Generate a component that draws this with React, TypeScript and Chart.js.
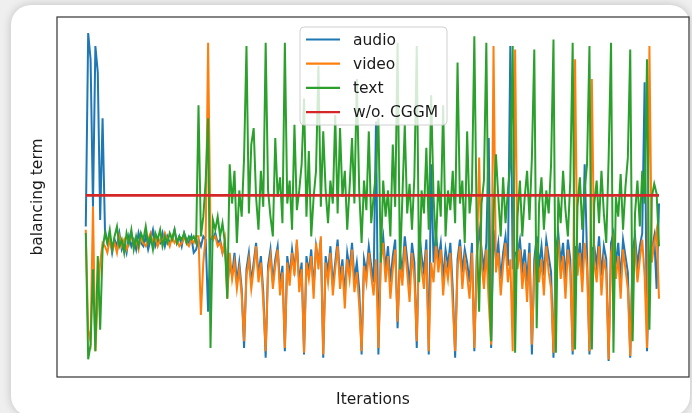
import React, { useEffect, useRef } from "react";
import { Chart, registerables } from "chart.js";

Chart.register(...registerables);

// iteration index (x) for every sample
const iterations: number[] = Array.from({ length: 240 }, (_, i) => i);

const audio: number[] = [
  41, 100, 92, 47, 96, 88, 43, 74,
  40, 36, 38, 33, 37, 35, 39, 34, 36, 33, 38, 35, 37, 34, 39, 36, 35, 38, 34, 37,
  40, 35, 37, 36, 39, 35, 38, 36, 37, 40, 36, 38, 35, 39, 37, 36, 38, 33, 34,
  37, 35, 38, 37, 15, 38, 37, 39, 36, 37, 33, 36, 23,
  30, 26, 33, 24, 30, 22, 4, 28, 33, 24,
  30, 36, 26, 32, 21, 1, 29, 34, 24, 31,
  35, 23, 29, 3, 32, 26, 34, 28, 36, 24,
  30, 2, 32, 27, 34, 22, 35, 30, 37, 1,
  32, 27, 35, 23, 30, 37, 25, 31, 20, 33,
  28, 36, 25, 30, 22, 2, 31, 27, 35, 29,
  24, 73, 2, 33, 38, 28, 35, 24, 32, 37,
  10, 33, 27, 38, 31, 23, 36, 30, 4, 40,
  32, 27, 37, 2, 60, 30, 39, 31, 36, 25,
  34, 29, 36, 22, 1, 31, 37, 27, 34, 30,
  24, 36, 3, 32, 40, 34, 28, 36, 68, 4,
  40, 31, 36, 25, 33, 38, 29, 96, 28, 33,
  33, 37, 28, 34, 24, 36, 2, 31, 38, 29,
  35, 26, 37, 32, 27, 1, 34, 39, 30, 36,
  25, 37, 31, 2, 35, 30, 36, 26, 60, 32,
  2, 34, 35, 29, 38, 26, 35, 31, 0, 36,
  39, 30, 36, 25, 37, 32, 27, 1, 34, 38,
  29, 35, 39, 85, 3, 30, 34, 38, 22, 48,
];

const video: number[] = [
  40, 9.5, 6, 47, 3, 20, 30, 36,
  35, 33, 37, 34, 36, 33, 38, 35, 37, 34, 36, 39, 35, 37, 34, 38, 36, 35, 37, 39,
  36, 38, 35, 37, 36, 39, 37, 35, 38, 36, 37, 35, 36, 38, 36, 35, 37, 36, 38,
  38, 14, 30, 38, 97, 38, 37, 38, 35, 36, 33, 37, 19,
  33, 25, 30, 22, 28, 20, 6, 26, 31, 22,
  28, 35, 24, 30, 18, 3, 27, 32, 22, 29,
  34, 20, 27, 4, 30, 23, 33, 26, 37, 21,
  28, 2.5, 30, 25, 32, 19, 36, 28, 38, 2,
  30, 24, 33, 20, 28, 35, 22, 29, 16, 31,
  25, 34, 21, 27, 17, 3, 29, 24, 33, 26,
  20, 31, 4, 30, 36, 24, 32, 19, 28, 34,
  12, 30, 23, 35, 27, 18, 33, 25, 6, 37,
  28, 22, 34, 3, 30, 24, 36, 27, 34, 20,
  30, 25, 33, 17, 3, 28, 35, 22, 31, 26,
  19, 33, 4, 28, 62, 30, 22, 34, 18, 5,
  96, 27, 33, 20, 29, 36, 24, 31, 3, 95,
  28, 34, 22, 30, 18, 33, 5, 26, 36, 24,
  31, 20, 35, 27, 22, 2.5, 30, 37, 25, 32,
  19, 34, 27, 3, 92, 26, 33, 21, 36, 28,
  3, 86, 30, 24, 35, 20, 31, 27, 0.5, 33,
  37, 25, 32, 19, 34, 28, 22, 1.5, 30, 35,
  24, 31, 37, 26, 4, 96, 30, 36, 40, 19,
];

const textMod: number[] = [
  39, 0.5, 5, 28, 3, 32, 9.5, 34,
  39, 36, 40, 34, 38, 41, 35, 37, 33, 39, 36, 40, 34, 38, 35, 39, 37, 41, 36, 38,
  34, 39, 37, 40, 35, 38, 36, 39, 37, 40, 36, 38, 37, 39, 36, 38, 37, 38, 36,
  78, 38, 44, 55, 74, 4, 43, 40, 44, 38, 42, 36, 19,
  60, 48, 58, 36, 52, 44, 62, 96, 45, 66,
  71, 50, 40, 58, 47, 97, 52, 44, 38, 68,
  50, 56, 42, 97, 48, 55, 40, 72, 46, 52,
  60, 80, 44, 64, 38, 50, 58, 90, 47, 70,
  52, 42, 55, 48, 75, 45, 71, 50, 58, 40,
  53, 68, 48, 86, 52, 36, 55, 46, 70, 42,
  50, 58, 74, 30, 55, 44, 52, 38, 66, 47,
  97, 28, 50, 72, 45, 54, 40, 56, 96, 24,
  52, 45, 65, 40, 81, 50, 35, 55, 44, 78,
  38, 52, 46, 58, 42, 91, 48, 55, 36, 70,
  45, 52, 99, 40, 15, 48, 55, 97, 30, 6,
  45, 63, 50, 38, 56, 42, 52, 60, 96, 2.5,
  44, 55, 38, 50, 58, 43, 62, 95, 10, 48,
  56, 40, 52, 45, 60, 98, 2.5, 50, 42, 58,
  46, 38, 55, 97, 3.5, 47, 56, 40, 52, 60,
  96, 3.5, 48, 55, 42, 58, 45, 36, 62, 97,
  2.5, 50, 44, 57, 40, 53, 62, 95, 6, 45,
  55, 41, 58, 48, 92, 9.5, 50, 54, 51, 35,
];

// constant balancing term without CGGM (first and last iteration)
const woCGGM: number[] = [50.5, 50.5];

const seriesLabels = ["audio", "video", "text", "w/o. CGGM"];
const seriesColors = ["#1f77b4", "#ff7f0e", "#2ca02c", "#d62728"];

const FONT = "'DejaVu Sans', sans-serif";

const decorPlugin = {
  id: "decor",
  afterDatasetsDraw(chart: any) {
    const { ctx, chartArea } = chart;
    const { left, top, right, bottom } = chartArea;
    ctx.save();
    // frame (all four spines)
    ctx.strokeStyle = "#333333";
    ctx.lineWidth = 1.2;
    ctx.strokeRect(left, top, right - left, bottom - top);

    // legend box
    const bx = 300, by = 27, bw = 147, bh = 98, r = 4;
    ctx.beginPath();
    ctx.moveTo(bx + r, by);
    ctx.lineTo(bx + bw - r, by);
    ctx.quadraticCurveTo(bx + bw, by, bx + bw, by + r);
    ctx.lineTo(bx + bw, by + bh - r);
    ctx.quadraticCurveTo(bx + bw, by + bh, bx + bw - r, by + bh);
    ctx.lineTo(bx + r, by + bh);
    ctx.quadraticCurveTo(bx, by + bh, bx, by + bh - r);
    ctx.lineTo(bx, by + r);
    ctx.quadraticCurveTo(bx, by, bx + r, by);
    ctx.closePath();
    ctx.fillStyle = "rgba(255,255,255,0.8)";
    ctx.fill();
    ctx.strokeStyle = "#d0d0d0";
    ctx.lineWidth = 1;
    ctx.stroke();

    ctx.font = `15.5px ${FONT}`;
    ctx.textBaseline = "middle";
    ctx.textAlign = "left";
    seriesLabels.forEach((lab, k) => {
      const yy = 39.5 + k * 24.2;
      ctx.strokeStyle = seriesColors[k];
      ctx.lineWidth = 2.2;
      ctx.beginPath();
      ctx.moveTo(306, yy);
      ctx.lineTo(340, yy);
      ctx.stroke();
      ctx.fillStyle = "#1a1a1a";
      ctx.fillText(lab, 353, yy + 1);
    });

    // axis titles
    ctx.fillStyle = "#1a1a1a";
    ctx.font = `15.5px ${FONT}`;
    ctx.textAlign = "center";
    ctx.textBaseline = "alphabetic";
    ctx.fillText("Iterations", (left + right) / 2, 404);
    ctx.translate(42, (top + bottom) / 2);
    ctx.rotate(-Math.PI / 2);
    ctx.fillText("balancing term", 0, 0);
    ctx.restore();
  },
};

export default function App() {
  const ref = useRef<HTMLCanvasElement | null>(null);

  useEffect(() => {
    if (!ref.current) return;
    const toPts = (arr: number[]) => arr.map((v, i) => ({ x: iterations[i], y: v }));
    const chart = new Chart(ref.current, {
      type: "line",
      data: {
        datasets: [
          { label: seriesLabels[0], data: toPts(audio), borderColor: seriesColors[0], order: 4 },
          { label: seriesLabels[1], data: toPts(video), borderColor: seriesColors[1], order: 3 },
          { label: seriesLabels[2], data: toPts(textMod), borderColor: seriesColors[2], order: 2 },
          {
            label: seriesLabels[3],
            data: [
              { x: iterations[0], y: woCGGM[0] },
              { x: iterations[iterations.length - 1], y: woCGGM[1] },
            ],
            borderColor: seriesColors[3],
            borderWidth: 2.6,
            order: 1,
          },
        ],
      },
      options: {
        animation: false,
        responsive: false,
        maintainAspectRatio: false,
        layout: { padding: { left: 57, top: 17, right: 3, bottom: 36 } },
        elements: {
          point: { radius: 0 },
          line: { borderWidth: 2, tension: 0, fill: false },
        },
        scales: {
          x: { type: "linear", display: false, min: -12, max: 251.5 },
          y: { type: "linear", display: false, min: -4.88, max: 104.88 },
        },
        plugins: { legend: { display: false }, tooltip: { enabled: false } },
      },
      plugins: [decorPlugin],
    });
    return () => chart.destroy();
  }, []);

  return (
    <div
      style={{
        position: "fixed",
        left: 0,
        top: 0,
        width: 692,
        height: 413,
        background: "#efefef",
        overflow: "hidden",
      }}
    >
      <div
        style={{
          position: "absolute",
          left: 11,
          top: 5,
          width: 679,
          height: 411,
          background: "#ffffff",
          borderRadius: 20,
          boxShadow: "0 0 10px rgba(0,0,0,0.2)",
        }}
      />
      <canvas
        ref={ref}
        width={692}
        height={413}
        style={{ position: "absolute", left: 0, top: 0, display: "block" }}
      />
    </div>
  );
}
